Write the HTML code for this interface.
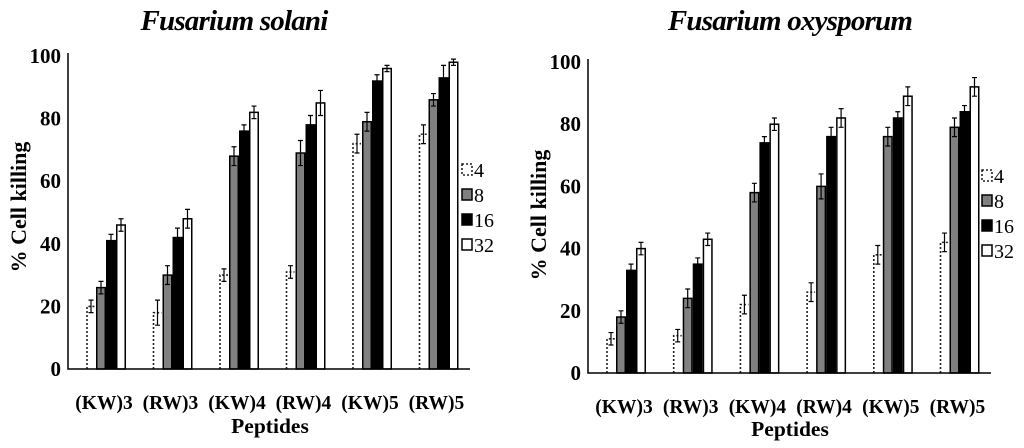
<!DOCTYPE html>
<html><head><meta charset="utf-8"><style>
html,body{margin:0;padding:0;background:#fff;}
svg{display:block;font-family:"Liberation Serif",serif;}
</style></head><body>
<svg id="s" width="1024" height="448" viewBox="0 0 1024 448" xmlns="http://www.w3.org/2000/svg"></svg>
<script>
const categories = ["(KW)3","(RW)3","(KW)4","(RW)4","(KW)5","(RW)5"];
const seriesNames = ["4","8","16","32"];
const yTicks = [0,20,40,60,80,100];
const solani4 = [20,18,30,31,72,75];
const solani8 = [26,30,68,69,79,86];
const solani16 = [41,42,76,78,92,93];
const solani32 = [46,48,82,85,96,98];
const solaniErr4 = [2,4,2,2,3,3];
const solaniErr8 = [2,3,3,4,3,2];
const solaniErr16 = [2,3,2,3,2,4];
const solaniErr32 = [2,3,2,4,1,1];
const oxy4 = [11,12,22,26,38,42];
const oxy8 = [18,24,58,60,76,79];
const oxy16 = [33,35,74,76,82,84];
const oxy32 = [40,43,80,82,89,92];
const oxyErr4 = [2,2,3,3,3,3];
const oxyErr8 = [2,3,3,4,3,3];
const oxyErr16 = [2,2,2,3,2,2];
const oxyErr32 = [2,2,2,3,3,3];

const NS="http://www.w3.org/2000/svg";
const svg=document.getElementById('s');
function el(tag,attrs,parent){const e=document.createElementNS(NS,tag);for(const k in attrs)e.setAttribute(k,attrs[k]);(parent||svg).appendChild(e);return e;}

function chart(cfg){
  const g=el('g',{});
  
  
  const y=v=>cfg.y0+(cfg.y100-cfg.y0)*v/100;
  const cx=i=>cfg.c0+cfg.step*i;
  const t=el('text',{x:cfg.titleX,y:30,'text-anchor':'middle','font-size':29,'font-weight':'bold','font-style':'italic','letter-spacing':'-0.8'},g);
  t.textContent=cfg.title;
  
  
  const yt=el('text',{x:0,y:0,'text-anchor':'middle','font-size':22,'font-weight':'bold',transform:`translate(${cfg.yTitleX},${cfg.yTitleY}) rotate(-90)`},g);
  yt.textContent='% Cell killing';
  
  
  yTicks.forEach(v=>{
    const tx=el('text',{x:cfg.ax-7,y:y(v)+7,'text-anchor':'end','font-size':21,'font-weight':'bold'},g);
    tx.textContent=v;
    
    
  });
  const fills=['none','#808080','#000','#fff'];
  const bw=10;
  categories.forEach((c,i)=>{
    cfg.vals.forEach((arr,s)=>{
      const v=arr[i], e=cfg.errs[s][i];
      const x=cx(i)-20+s*bw;
      let r;
      if(s===0){
        r=el('path',{d:`M${x+1} ${y(0)} V${y(v)} H${x+bw-1}`,fill:'none',stroke:'#222','stroke-width':1.6,'stroke-dasharray':'2,2'},g);
      } else {
        r=el('rect',{x:x+0.75,y:y(v),width:bw-1.5,height:y(0)-y(v),fill:fills[s],stroke:'#000','stroke-width':1.5},g);
      }
      
      
      const m=x+bw/2;
      const eb=el('path',{d:`M${m} ${y(v+e)} V${y(v-e)} M${m-2.5} ${y(v+e)} H${m+2.5} M${m-2.5} ${y(v-e)} H${m+2.5}`,stroke:'#000','stroke-width':1.2,fill:'none'},g);
      
      
    });
    const lx=el('text',{x:cx(i)-2,y:cfg.labY,'text-anchor':'middle','font-size':19.5,'font-weight':'bold'},g);
    lx.textContent=c;
    
    
  });
  const axes=el('path',{d:`M${cfg.ax} ${cfg.y100-3} V${cfg.y0} H${cfg.axEnd}`,stroke:'#000','stroke-width':1.5,fill:'none'},g);
  
  
  const xt=el('text',{x:cfg.xTitleX,y:cfg.xTitleY,'text-anchor':'middle','font-size':21.5,'font-weight':'bold'},g);
  xt.textContent='Peptides';
  
  
  seriesNames.forEach((n,s)=>{
    const ly=cfg.legY+s*25;
    const sw=s===0?el('rect',{x:cfg.legX,y:ly-6,width:10,height:11,fill:'#fff',stroke:'#222','stroke-width':1.6,'stroke-dasharray':'2,2'},g)
                 :el('rect',{x:cfg.legX,y:ly-6,width:10,height:11,fill:fills[s],stroke:'#000','stroke-width':1.5},g);
    
    
    const lt=el('text',{x:cfg.legX+12,y:ly+7,'font-size':20},g);
    lt.textContent=n;
    
    
  });
}
chart({name:'chart-fusarium-solani',title:'Fusarium solani',titleX:234,ax:68,axEnd:470,y0:369,y100:56,c0:106,step:66.5,
  vals:[solani4,solani8,solani16,solani32],errs:[solaniErr4,solaniErr8,solaniErr16,solaniErr32],
  yTitleX:26,yTitleY:207,labY:409,xTitleX:270,xTitleY:433,legX:462,legY:170});
chart({name:'chart-fusarium-oxysporum',title:'Fusarium oxysporum',titleX:790,ax:588,axEnd:991,y0:373,y100:62,c0:626,step:66.7,
  vals:[oxy4,oxy8,oxy16,oxy32],errs:[oxyErr4,oxyErr8,oxyErr16,oxyErr32],
  yTitleX:546,yTitleY:215,labY:413,xTitleX:790,xTitleY:436,legX:982,legY:176});
</script>
</body></html>
